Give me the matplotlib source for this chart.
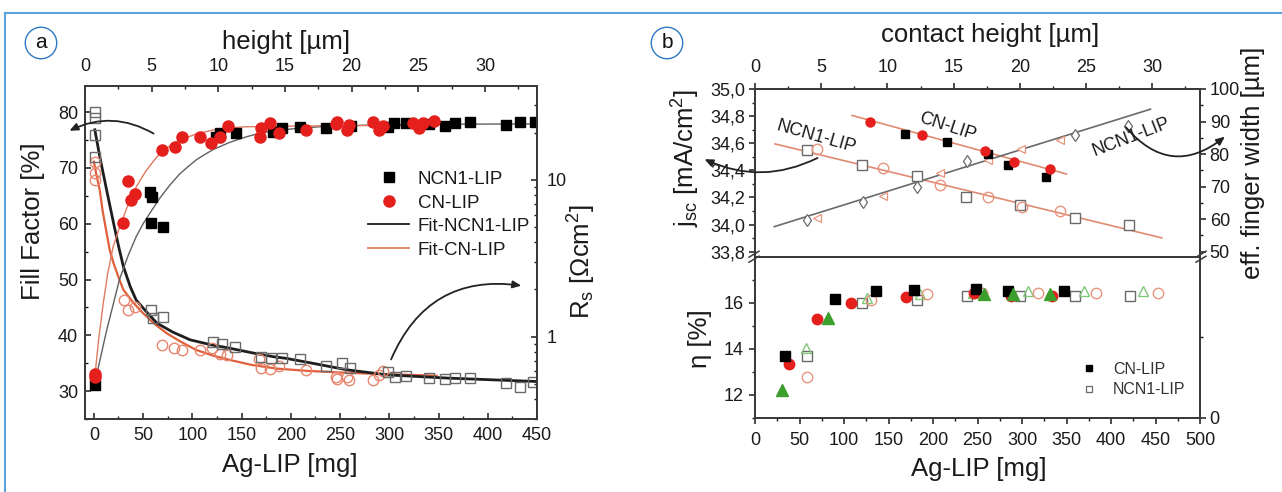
import matplotlib
matplotlib.use('Agg')
import matplotlib.pyplot as plt
from matplotlib.lines import Line2D
from matplotlib.patches import FancyArrowPatch
from matplotlib.ticker import MultipleLocator, FixedLocator, NullFormatter, FuncFormatter, LogLocator

plt.rcParams['font.family'] = ['Liberation Sans', 'DejaVu Sans']
plt.rcParams['mathtext.fontset'] = 'custom'
plt.rcParams['mathtext.rm'] = 'Liberation Sans'
plt.rcParams['mathtext.it'] = 'Liberation Sans:italic'
plt.rcParams['mathtext.bf'] = 'Liberation Sans:bold'

# ---------------- data: panel a ----------------
ff_ncn1_x = [1, 57, 59, 58, 70, 124, 128, 144, 182, 191, 209, 236, 261, 299, 305, 317, 340, 357, 367, 382, 419, 433, 448]
ff_ncn1_y = [31.1, 65.7, 64.8, 60.1, 59.5, 75.6, 76.2, 76.2, 76.5, 77.2, 77.4, 77.2, 77.6, 77.4, 78.0, 78.1, 77.9, 77.5, 78.1, 78.3, 77.7, 78.3, 78.3]
ff_cn_x = [1, 1, 30, 35, 38, 42, 69, 82, 89, 108, 119, 128, 136, 169, 170, 179, 188, 215, 246, 247, 257, 259, 283, 290, 294, 324, 330, 334, 345]
ff_cn_y = [33.1, 32.5, 60.1, 67.7, 64.2, 65.3, 73.3, 73.7, 75.6, 75.6, 74.4, 75.6, 77.5, 75.5, 77.1, 78.0, 76.3, 76.9, 77.9, 78.3, 76.8, 77.7, 78.2, 76.8, 77.5, 78.0, 77.1, 78.0, 78.5]
rs_ncn1_x = [1, 1, 1, 1, 58, 60, 70, 121, 130, 143, 170, 180, 191, 209, 236, 252, 260, 299, 306, 317, 340, 357, 367, 382, 419, 433, 446]
rs_ncn1_y = [27.3, 24.8, 19.4, 14.1, 1.48, 1.31, 1.34, 0.93, 0.90, 0.86, 0.745, 0.727, 0.73, 0.716, 0.645, 0.676, 0.63, 0.598, 0.556, 0.564, 0.542, 0.534, 0.542, 0.547, 0.503, 0.48, 0.516]
rs_cn_x = [1, 1, 1, 31, 35, 42, 69, 81, 89, 108, 120, 128, 135, 168, 170, 179, 188, 215, 246, 247, 257, 259, 283, 290, 294]
rs_cn_y = [13.1, 11.0, 10.0, 1.71, 1.48, 1.55, 0.885, 0.843, 0.82, 0.82, 0.843, 0.776, 0.765, 0.72, 0.63, 0.62, 0.645, 0.61, 0.556, 0.534, 0.556, 0.53, 0.53, 0.57, 0.60]

fit_ff_ncn1_x = [1, 7, 13, 20, 26, 35, 43, 50, 58, 67, 77, 87, 96, 105, 121, 138, 155, 170, 189, 210, 230, 280, 350, 450]
fit_ff_ncn1_y = [31.4, 36.2, 40.9, 45.8, 50.0, 54.4, 57.7, 60.0, 62.2, 64.6, 66.9, 68.9, 70.3, 71.6, 73.3, 74.6, 75.6, 76.3, 76.8, 77.15, 77.4, 77.7, 77.85, 77.9]
fit_ff_cn_x = [1, 5, 9.5, 14, 19.6, 25, 30, 36, 43, 53, 64, 75, 87, 104, 121, 138, 155, 200, 260, 345]
fit_ff_cn_y = [32.6, 39.5, 45.7, 51.0, 55.9, 58.8, 61.2, 64.0, 66.6, 69.5, 72.0, 73.7, 75.0, 76.1, 76.8, 77.2, 77.4, 77.5, 77.6, 77.6]
fit_rs_ncn1_x = [1, 6, 13, 20, 25, 30, 37, 43, 53, 64, 80, 98, 118, 138, 160, 182, 195, 220, 257, 298, 361, 450]
fit_rs_ncn1_y = [20.9, 14.1, 8.6, 5.3, 3.8, 2.8, 2.08, 1.71, 1.45, 1.22, 1.07, 0.953, 0.89, 0.843, 0.79, 0.745, 0.727, 0.68, 0.614, 0.57, 0.543, 0.517]
fit_rs_cn_x = [0, 3, 6, 9, 13, 16, 20, 25, 30, 40, 50, 62, 74, 88, 104, 120, 138, 160, 186, 216, 250, 300, 348]
fit_rs_cn_y = [13.1, 10.5, 8.6, 6.3, 4.57, 3.6, 2.94, 2.4, 1.99, 1.65, 1.41, 1.2, 1.05, 0.93, 0.822, 0.76, 0.71, 0.66, 0.625, 0.605, 0.59, 0.575, 0.563]

# ---------------- data: panel b (upper) ----------------
jsc_cn_circ_x = [129.5, 187.7, 257.9, 290.9, 331.4]
jsc_cn_circ_y = [34.753, 34.662, 34.546, 34.465, 34.408]
jsc_cn_sq_x = [168.9, 215.9, 262.0, 284.2, 326.6]
jsc_cn_sq_y = [34.667, 34.610, 34.521, 34.440, 34.349]
jsc_cn_fit_x = [109, 350]
jsc_cn_fit_y = [34.805, 34.373]
jsc_ncn1_sq_x = [58.4, 120.2, 182.0, 237.6, 297.7, 359.1, 420.4]
jsc_ncn1_sq_y = [34.551, 34.440, 34.359, 34.201, 34.144, 34.046, 33.996]
jsc_ncn1_circ_x = [70.0, 143.8, 208.3, 262.0, 300.3, 343.0]
jsc_ncn1_circ_y = [34.560, 34.416, 34.290, 34.206, 34.127, 34.100]
jsc_ncn1_fit_x = [22.5, 457]
jsc_ncn1_fit_y = [34.595, 33.902]
width_dia_x = [58.6, 121.3, 182.0, 238.4, 359.0, 419.0]
width_dia_y = [59.7, 65.4, 69.8, 78.0, 85.9, 88.7]
width_tri_x = [69.6, 143.8, 208.3, 261.5, 298.4, 343.0]
width_tri_y = [60.3, 67.2, 74.3, 78.3, 81.5, 84.4]
width_fit_x = [21.7, 444.4]
width_fit_y = [57.7, 93.8]

# ---------------- data: panel b (lower) ----------------
eta_cn_sq_x = [33.8, 90.1, 135.9, 179.0, 248.5, 284.4, 347.6]
eta_cn_sq_y = [13.71, 16.17, 16.53, 16.57, 16.60, 16.50, 16.50]
eta_cn_circ_x = [38.3, 69.5, 108.1, 169.7, 246.0, 288.0, 333.8]
eta_cn_circ_y = [13.36, 15.28, 16.00, 16.24, 16.43, 16.30, 16.29]
eta_tri_fill_x = [30.0, 81.5, 257.6, 290.0, 331.4]
eta_tri_fill_y = [12.21, 15.36, 16.36, 16.36, 16.36]
eta_ncn1_sq_x = [58.2, 120.1, 182.1, 238.3, 298.3, 359.1, 421.0]
eta_ncn1_sq_y = [13.71, 15.97, 16.10, 16.29, 16.29, 16.31, 16.29]
eta_tri_open_x = [57.1, 125.8, 185.8, 244.8, 306.8, 369.8, 435.5]
eta_tri_open_y = [14.03, 16.21, 16.36, 16.43, 16.50, 16.50, 16.50]
eta_ncn1_circ_x = [58.2, 130.3, 193.3, 255.4, 317.5, 382.9, 453.0]
eta_ncn1_circ_y = [12.79, 16.14, 16.36, 16.43, 16.43, 16.43, 16.43]

# ---------------- styling ----------------
W, H = 1282, 492
fig = plt.figure(figsize=(W / 100, H / 100), dpi=100)
fig.patch.set_facecolor('white')


def fx(px):
    return px / W


def fy(py):
    return 1 - py / H


SPINE = '#3a3a3a'
RED = '#e41f1c'
GREEN = '#3c9e2c'
LGREEN = '#80c878'
TXT = '#1a1a1a'
TICK_FS = 13
LAB_FS = 18.5


def style_spines(ax):
    for s in ax.spines.values():
        s.set_color(SPINE)
        s.set_linewidth(1.3)

# ================= panel a =================
ax_a = fig.add_axes([fx(85), fy(419), fx(537 - 85), (419 - 86) / H])
ax_ar = ax_a.twinx()
ax_at = ax_a.twiny()
for ax in (ax_a, ax_ar, ax_at):
    style_spines(ax)
    ax.patch.set_visible(False)

ax_a.set_xlim(-9, 450)
ax_a.set_ylim(25, 84.7)
ax_a.xaxis.set_major_locator(MultipleLocator(50))
ax_a.xaxis.set_minor_locator(MultipleLocator(25))
ax_a.yaxis.set_major_locator(MultipleLocator(10))
ax_a.yaxis.set_minor_locator(MultipleLocator(5))
ax_a.tick_params(which='major', direction='in', length=4.5, width=1.1, labelsize=TICK_FS, colors=TXT, pad=5)
ax_a.tick_params(which='minor', direction='in', length=2.5, width=1.0, colors=TXT)
ax_a.tick_params(axis='x', pad=6)

ax_ar.set_yscale('log')
ax_ar.set_ylim(0.298, 39.8)
ax_ar.yaxis.set_major_locator(FixedLocator([1, 10]))
ax_ar.yaxis.set_major_formatter(FuncFormatter(lambda v, p: f'{v:g}'))
ax_ar.yaxis.set_minor_locator(LogLocator(base=10, subs=[2, 3, 4, 5, 6, 7, 8, 9]))
ax_ar.yaxis.set_minor_formatter(NullFormatter())
ax_ar.tick_params(which='major', direction='in', length=4.5, width=1.1, labelsize=TICK_FS, colors=TXT, pad=7)
ax_ar.tick_params(which='minor', direction='in', length=2.5, width=1.0, colors=TXT)

ax_at.set_xlim(0, 33.9)
ax_at.xaxis.set_major_locator(MultipleLocator(5))
ax_at.xaxis.set_minor_locator(MultipleLocator(2.5))
ax_at.tick_params(which='major', direction='in', length=4.5, width=1.1, labelsize=TICK_FS, colors=TXT, pad=8)
ax_at.tick_params(which='minor', direction='in', length=2.5, width=1.0, colors=TXT)

# Rs data (right axis)
ax_ar.plot(fit_rs_cn_x, fit_rs_cn_y, color='#e0603c', lw=1.6, zorder=2, solid_joinstyle='round')
ax_ar.plot(fit_rs_ncn1_x, fit_rs_ncn1_y, color='#1e1e1e', lw=2.0, zorder=2, solid_joinstyle='round')
ax_ar.plot(rs_cn_x, rs_cn_y, 'o', ms=7.5, mfc='none', mec='#e8866e', mew=1.0, zorder=3)
ax_ar.plot(rs_ncn1_x, rs_ncn1_y, 's', ms=7.5, mfc='none', mec='#6a6a6a', mew=1.0, zorder=3)
# FF data (left axis scale), drawn in the top-most twin so markers stay above
ax_ar.plot(fit_ff_ncn1_x, fit_ff_ncn1_y, color='#606060', lw=1.0, transform=ax_a.transData, zorder=2)
ax_ar.plot(fit_ff_cn_x, fit_ff_cn_y, color='#e07a60', lw=1.0, transform=ax_a.transData, zorder=2)
ax_ar.plot(ff_ncn1_x, ff_ncn1_y, 's', ms=7, color='black', transform=ax_a.transData, zorder=4)
ax_ar.plot(ff_cn_x, ff_cn_y, 'o', ms=8, color=RED, mec=RED, transform=ax_a.transData, zorder=4)

leg_a = ax_ar.legend(
    handles=[Line2D([], [], ls='none', marker='s', ms=7, color='black'),
             Line2D([], [], ls='none', marker='o', ms=8, color=RED),
             Line2D([], [], color='#1e1e1e', lw=1.3),
             Line2D([], [], color='#e07a60', lw=1.3)],
    labels=['NCN1-LIP', 'CN-LIP', 'Fit-NCN1-LIP', 'Fit-CN-LIP'],
    loc='upper left', bbox_to_anchor=(0.626, 0.745), frameon=False, fontsize=13.5,
    handlelength=2.2, handletextpad=0.45, labelspacing=0.34, borderpad=0, borderaxespad=0)
for t in leg_a.get_texts():
    t.set_color(TXT)

fig.text(fx(286), fy(42), 'height [µm]', fontsize=LAB_FS, ha='center', va='center', color=TXT)
fig.text(fx(290), fy(465), 'Ag-LIP [mg]', fontsize=LAB_FS, ha='center', va='center', color=TXT)
fig.text(fx(33), fy(221), 'Fill Factor [%]', fontsize=LAB_FS, ha='center', va='center', rotation=90, color=TXT)
fig.text(fx(582), fy(262), r'R$_\mathrm{s}$ [Ωcm$^\mathrm{2}$]', fontsize=LAB_FS, ha='center', va='center', rotation=90, color=TXT)

# ================= panel b =================
BL, BR = 755, 1200
ax_bu = fig.add_axes([fx(BL), fy(256.7), fx(BR - BL), (256.7 - 89) / H])
ax_bl = fig.add_axes([fx(BL), fy(418), fx(BR - BL), (418 - 256.7) / H])
ax_bur = ax_bu.twinx()
ax_but = ax_bu.twiny()
ax_blr = ax_bl.twinx()
for ax in (ax_bu, ax_bl, ax_bur, ax_but, ax_blr):
    style_spines(ax)
    ax.patch.set_visible(False)
ax_bl.spines['top'].set_visible(False)
ax_blr.spines['top'].set_visible(False)

common_major = dict(which='major', direction='out', length=4, width=1.1, labelsize=TICK_FS, colors=TXT)
common_minor = dict(which='minor', direction='out', length=2.5, width=1.0, colors=TXT)

comma = FuncFormatter(lambda v, p: f'{v:.1f}'.replace('.', ','))

ax_bu.set_xlim(0, 500)
ax_bu.set_ylim(33.763, 35.0)
ax_bu.yaxis.set_major_locator(MultipleLocator(0.2))
ax_bu.yaxis.set_minor_locator(MultipleLocator(0.1))
ax_bu.yaxis.set_major_formatter(comma)
ax_bu.tick_params(**common_major, pad=3)
ax_bu.tick_params(**common_minor)
ax_bu.tick_params(axis='x', which='both', bottom=False, labelbottom=False)

ax_bur.set_ylim(48.46, 100)
ax_bur.yaxis.set_major_locator(MultipleLocator(10))
ax_bur.yaxis.set_minor_locator(MultipleLocator(5))
ax_bur.tick_params(**common_major, pad=3)
ax_bur.tick_params(**common_minor)

ax_but.set_xlim(0, 33.6)
ax_but.xaxis.set_major_locator(MultipleLocator(5))
ax_but.xaxis.set_minor_locator(MultipleLocator(2.5))
ax_but.tick_params(**common_major, pad=5)
ax_but.tick_params(**common_minor)

ax_bl.set_xlim(0, 500)
ax_bl.set_ylim(11, 18)
ax_bl.xaxis.set_major_locator(MultipleLocator(50))
ax_bl.xaxis.set_minor_locator(MultipleLocator(25))
ax_bl.yaxis.set_major_locator(FixedLocator([12, 14, 16]))
ax_bl.yaxis.set_minor_locator(FixedLocator([11, 13, 15, 17]))
ax_bl.tick_params(**common_major, pad=4)
ax_bl.tick_params(**common_minor)
ax_bl.tick_params(axis='x', pad=6)

ax_blr.set_ylim(0, 2)
ax_blr.yaxis.set_major_locator(FixedLocator([0]))
ax_blr.yaxis.set_minor_locator(FixedLocator([1]))
ax_blr.yaxis.set_major_formatter(FuncFormatter(lambda v, p: f'{v:g}'))
ax_blr.tick_params(**common_major, pad=3)
ax_blr.tick_params(**common_minor)

# upper panel: jsc and finger width
ax_bur.plot(jsc_cn_fit_x, jsc_cn_fit_y, color='#e08a70', lw=1.2, transform=ax_bu.transData, zorder=2)
ax_bur.plot(jsc_ncn1_fit_x, jsc_ncn1_fit_y, color='#e08a70', lw=1.2, transform=ax_bu.transData, zorder=2)
ax_bur.plot(width_fit_x, width_fit_y, color='#6a6a6a', lw=1.2, zorder=2)
ax_bur.plot(width_dia_x, width_dia_y, 'd', ms=6, mfc='white', mec='#6a6a6a', mew=0.9, zorder=3)
ax_bur.plot(width_tri_x, width_tri_y, '<', ms=6, mfc='white', mec='#e8957e', mew=0.9, zorder=3)
ax_bur.plot(jsc_ncn1_sq_x, jsc_ncn1_sq_y, 's', ms=7, mfc='white', mec='#6a6a6a', mew=1.0, transform=ax_bu.transData, zorder=3)
ax_bur.plot(jsc_ncn1_circ_x, jsc_ncn1_circ_y, 'o', ms=7.5, mfc='none', mec='#e8957e', mew=1.0, transform=ax_bu.transData, zorder=3)
ax_bur.plot(jsc_cn_sq_x, jsc_cn_sq_y, 's', ms=5.5, color='black', transform=ax_bu.transData, zorder=4)
ax_bur.plot(jsc_cn_circ_x, jsc_cn_circ_y, 'o', ms=6.5, color=RED, transform=ax_bu.transData, zorder=4)

# lower panel: efficiency
ax_bl.plot(eta_ncn1_sq_x, eta_ncn1_sq_y, 's', ms=7, mfc='white', mec='#6a6a6a', mew=1.0, zorder=3)
ax_bl.plot(eta_tri_open_x, eta_tri_open_y, '^', ms=7.5, mfc='none', mec=LGREEN, mew=1.0, zorder=3)
ax_bl.plot(eta_ncn1_circ_x, eta_ncn1_circ_y, 'o', ms=7.5, mfc='none', mec='#e8957e', mew=1.0, zorder=3)
ax_bl.plot(eta_cn_circ_x, eta_cn_circ_y, 'o', ms=7.5, color=RED, zorder=4)
ax_bl.plot(eta_cn_sq_x, eta_cn_sq_y, 's', ms=7, color='black', zorder=5)
ax_bl.plot(eta_tri_fill_x, eta_tri_fill_y, '^', ms=8, color=GREEN, zorder=5)

leg_b = ax_bl.legend(
    handles=[Line2D([], [], ls='none', marker='s', ms=4.5, color='black'),
             Line2D([], [], ls='none', marker='s', ms=4.5, mfc='white', mec='#6a6a6a', mew=0.9)],
    labels=['CN-LIP', 'NCN1-LIP'],
    loc='upper left', bbox_to_anchor=(0.733, 0.35), frameon=False, fontsize=11.5,
    handlelength=1.0, handletextpad=1.0, labelspacing=0.35, borderpad=0, borderaxespad=0)
for t in leg_b.get_texts():
    t.set_color('#333')

fig.text(fx(990), fy(35), 'contact height [µm]', fontsize=LAB_FS, ha='center', va='center', color=TXT)
fig.text(fx(979), fy(469), 'Ag-LIP [mg]', fontsize=LAB_FS, ha='center', va='center', color=TXT)
fig.text(fx(686), fy(158), r'j$_\mathrm{sc}$ [mA/cm$^\mathrm{2}$]', fontsize=LAB_FS, ha='center', va='center', rotation=90, color=TXT)
fig.text(fx(700), fy(339), 'η [%]', fontsize=LAB_FS, ha='center', va='center', rotation=90, color=TXT)
fig.text(fx(1253), fy(163), 'eff. finger width [µm]', fontsize=LAB_FS, ha='center', va='center', rotation=90, color=TXT)

fig.text(fx(816), fy(137), 'NCN1-LIP', fontsize=13, ha='center', va='center', rotation=-16, rotation_mode='anchor', color=TXT)
fig.text(fx(948), fy(127), 'CN-LIP', fontsize=13, ha='center', va='center', rotation=-18, rotation_mode='anchor', color=TXT)
fig.text(fx(1131), fy(137), 'NCN1-LIP', fontsize=13, ha='center', va='center', rotation=21, rotation_mode='anchor', color=TXT)

# break marks
for bx in (BL - 1, BR + 1):
    for off in (-2.5, 2.5):
        fig.add_artist(Line2D([fx(bx - 5), fx(bx + 5)], [fy(256.7 + off + 3), fy(256.7 + off - 3)],
                              color=SPINE, lw=1.1, transform=fig.transFigure))

# curved arrows


def arrow(p0, p1, rad):
    a = FancyArrowPatch((fx(p0[0]), fy(p0[1])), (fx(p1[0]), fy(p1[1])), transform=fig.transFigure,
                        connectionstyle=f'arc3,rad={rad}', arrowstyle='-|>,head_length=5,head_width=2.2',
                        color='#222', lw=1.3, mutation_scale=1)
    fig.add_artist(a)


arrow((156, 135), (67, 132), 0.28)
arrow((390, 362), (524, 286), -0.39)
arrow((820, 156.7), (702, 158), -0.25)
arrow((1124, 125), (1227, 135), 0.5)

# panel letters in circles
for (px, py, s) in ((41, 43, 'a'), (667, 43, 'b')):
    fig.text(fx(px), fy(py), s, fontsize=15, ha='center', va='center', color='#111',
             bbox=dict(boxstyle='circle,pad=0.3', fc='white', ec='#2f78c4', lw=1.0))

# blue frame
fig.add_artist(Line2D([fx(5), 1], [fy(12.7), fy(12.7)], color='#5ba3d9', lw=1.5, transform=fig.transFigure))
fig.add_artist(Line2D([fx(5), fx(5)], [0, fy(12.7)], color='#5ba3d9', lw=1.5, transform=fig.transFigure))

fig.savefig('out.png', dpi=100, facecolor='white')
